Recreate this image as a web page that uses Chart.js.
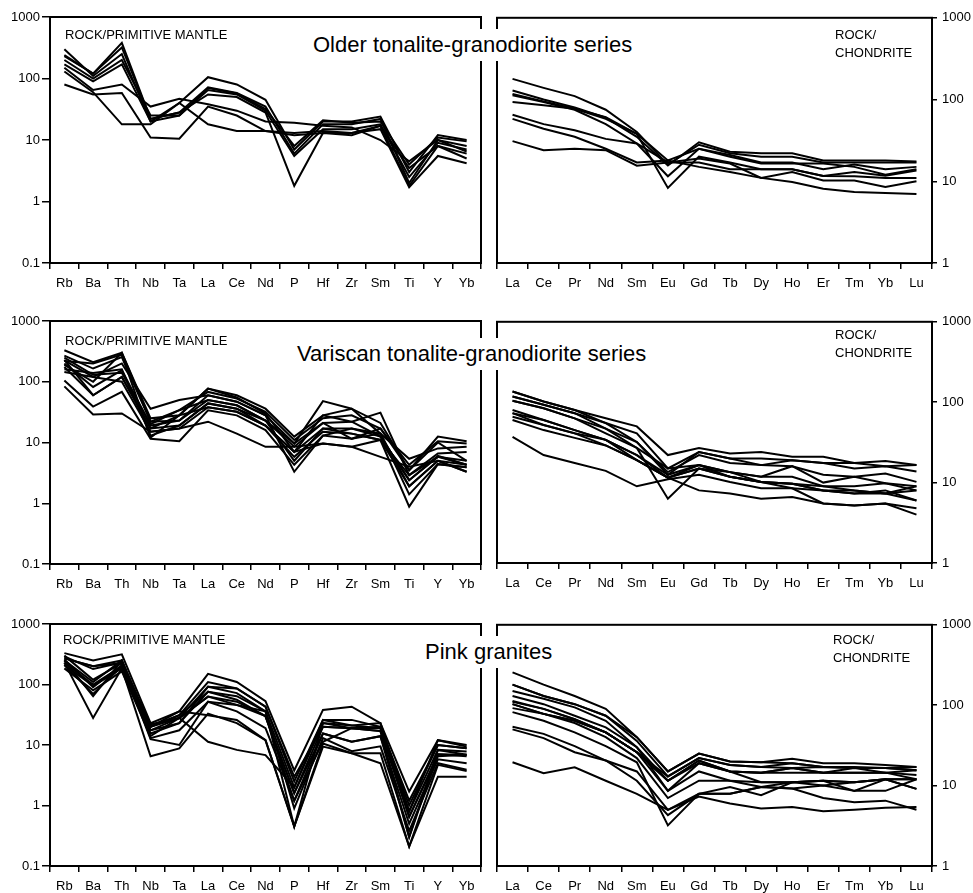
<!DOCTYPE html>
<html>
<head>
<meta charset="utf-8">
<script src="https://cdn.jsdelivr.net/npm/chart.js@4.4.1/dist/chart.umd.min.js"></script>
<style>
  body { margin: 0; background: #fff; }
  #page { position: relative; width: 973px; height: 893px; overflow: hidden; font-family: "Liberation Sans", Arial, sans-serif; color: #000; }
  canvas { position: absolute; }
  .title { position: absolute; background: #fff; font-size: 22px; line-height: 26px; padding: 3px 3px; white-space: nowrap; z-index: 2; }
  .note { position: absolute; font-size: 13px; line-height: 18px; white-space: nowrap; z-index: 1; }
</style>
</head>
<body>
<div id="page">
  <canvas id="c1"></canvas><canvas id="c2"></canvas>
  <canvas id="c3"></canvas><canvas id="c4"></canvas>
  <canvas id="c5"></canvas><canvas id="c6"></canvas>

  <div class="title" style="left:310px;top:29px">Older tonalite-granodiorite series</div>
  <div class="title" style="left:294px;top:338px">Variscan tonalite-granodiorite series</div>
  <div class="title" style="left:422px;top:636px">Pink granites</div>

  <div class="note" style="left:65px;top:26px">ROCK/PRIMITIVE MANTLE</div>
  <div class="note" style="left:65px;top:332px">ROCK/PRIMITIVE MANTLE</div>
  <div class="note" style="left:63px;top:631px">ROCK/PRIMITIVE MANTLE</div>
  <div class="note" style="left:835px;top:26px">ROCK/<br>CHONDRITE</div>
  <div class="note" style="left:835px;top:326px">ROCK/<br>CHONDRITE</div>
  <div class="note" style="left:833px;top:631px">ROCK/<br>CHONDRITE</div>
</div>

<script>
// element order on the two kinds of diagram
const mantleElements = ["Rb","Ba","Th","Nb","Ta","La","Ce","Nd","P","Hf","Zr","Sm","Ti","Y","Yb"];
const reeElements = ["La","Ce","Pr","Nd","Sm","Eu","Gd","Tb","Dy","Ho","Er","Tm","Yb","Lu"];

const mantleTicks = [0.1, 1, 10, 100, 1000];
const chondriteTicks = [1, 10, 100, 1000];

// Older tonalite-granodiorite series
const olderMantle = [
  [240,120,380,22,28,72,58,35,6,18,18,22,2.0,10,8],
  [300,110,250,20,40,105,80,45,7,20,20,24,3.0,12,10],
  [200,100,200,25,25,65,55,30,5.5,15,15,18,2.5,9,7],
  [170,90,170,20,25,70,57,32,8,21,19,20,4.0,11,9.5],
  [150,65,80,35,47,38,30,20,19,17,16,10,4.5,10,6.5],
  [130,60,18,18,40,18,14,14,13,14,13,15,1.7,5.5,4.2],
  [80,55,58,11,10.5,35,25,14,12,13,12,17,3.5,8,5],
  [230,120,320,22,28,55,50,28,1.8,13,13,17,1.8,8,6]
];
const olderChondrite = [
  [179,139,110,75,40,16,28,22,20,20,17,17,17,17],
  [129,100,80,60,35,15.6,30,23,22,22,18,18,18,17.5],
  [117,95,77,58,38,18,25,21,17,17,14,16,14,15],
  [113,93,75,50,29,11.5,25,20,16.5,16.5,16.5,15,12,14],
  [93,85,77,61,38,8.3,20,17,14,14,11.6,13,11.7,13.5],
  [65,50,42,33,29,17,19,16.5,11,13,10.2,10.2,8.5,10],
  [58,44,35,25,17,18,15,13,11,9.8,8.1,7.4,7.2,7],
  [31,24,25,24,15.5,17,17,14,14,14,11.6,11.5,11,11]
];

// Variscan tonalite-granodiorite series
const variscanMantle = [
  [330,210,300,25,28,77,60,36,12.5,28,36,21,3.5,12.5,10.5],
  [270,165,255,22,34,68,53,32,11,25,28,17,4.3,10.5,9.6],
  [225,120,200,36,50,60,47,28,9.6,48,36,14,5.4,8,8.5],
  [200,82,155,19,23,50,41,23,8.5,21,22,31,2.9,6.6,7],
  [175,60,120,17,19,44,36,19,7,17,17,12.5,2.4,5.8,5],
  [145,120,100,15,17,38,32,19,5.8,15,14,11,1.9,5,4.3],
  [105,39,68,11.5,10.5,34,28,16,4.3,13,11.5,14,1.4,4.4,3.9],
  [84,29,30,15,17,22,14,8.5,8.5,9.6,8.5,5.8,4,5,3.3],
  [220,200,280,12,28,77,55,30,7,28,22,12.5,2.4,6,4.3],
  [250,130,140,20,34,50,41,23,5,17,14,11,0.88,4.4,3.9],
  [190,100,300,22,23,60,47,28,3.3,13,17,14,1.9,5,3.3],
  [160,140,160,13,19,44,36,23,9.6,21,11.5,17,3.5,10,5],
  [230,60,120,17,28,38,32,19,7,9.6,8.5,11,2.9,5.8,4.3]
];
const variscanChondrite = [
  [136,102,80,63,50,22,27,23,24,21,21,17.5,18.5,16.5],
  [118,93,73,55,41,15,24,20,20,19,17.5,15,16,13.7],
  [104,84,63,47,32,13.5,22,17.5,16.5,19,17.5,17.5,16,16.5],
  [136,102,80,55,32,12.5,24,20,16.5,16,12.5,11.8,13,10.2],
  [118,93,73,47,27,6.3,15,13.5,11.8,16,10,11.8,9.8,9],
  [80,60,45,34,22,12.5,16.5,13.5,11.8,11.8,9,9,9.8,8],
  [73,60,45,34,19,11.5,16.5,11.8,10.2,9.7,8,7.3,8,6],
  [66,52,41,29,19,11.5,15,11.8,10.2,9.7,9,8,7.3,8],
  [60,45,36,29,19,11.5,8,7.3,6.3,6.6,5.5,5.2,5.5,4.8],
  [73,52,41,34,22,11.5,15,11.8,10.2,8.5,5.5,5.2,5.5,4],
  [37,22,17.5,14,9,11,12.5,10.2,8.5,8.5,8,7.3,7.3,6],
  [104,84,63,41,27,15,16.5,13.5,10.2,9.7,8,8,7.3,9]
];

// Pink granites
const pinkMantle = [
  [330,250,315,23,36,150,110,53,3.8,38,43,23,1.7,12,10],
  [270,200,250,20,31,110,86,43,2.5,26,26,20,1.2,10,8.8],
  [300,120,225,17.5,28,92,72,36,2,23,21,19,0.8,8.3,7.8],
  [210,95,185,15.5,23,76,56,30,1.6,20,19,17,0.65,7,6.9],
  [185,80,165,14,28,63,46,30,1.2,15.5,11.3,14,0.5,5.8,5],
  [250,64,250,13,17.5,52,46,36,0.9,13,7.9,9.5,0.38,5,3.9],
  [230,28,185,6.5,8.8,33,23,12,0.45,10.6,7.3,7.3,0.21,3,3],
  [270,200,225,20,36,31,26,12,0.45,9.4,7.3,5,0.21,4.7,3.7],
  [250,110,250,20,28,11.3,8.3,6.8,2,26,21,23,0.8,12,9.4],
  [290,180,230,17.5,23,92,86,43,3,20,19,20,1.0,10,8.8],
  [210,70,200,20,31,76,64,36,0.45,23,19,17,0.3,8.3,6.9],
  [230,100,200,22,28,63,52,30,1.6,15.5,11.3,14,0.3,7,6.5],
  [260,90,210,12.5,10,52,36,19,1.2,11.3,19,19,0.65,6.5,6.9]
];
const pinkChondrite = [
  [256,180,130,90,40,15,25,20,19.5,21.5,19,19,18,17],
  [180,130,103,74,36,13,22,18,17,19,17,16.5,16.5,15.5],
  [150,120,94,64,30,11.5,20.5,15,14.5,16.5,14.5,14.5,14.5,13.5],
  [130,103,74,53,30,8.6,19,15,14.5,14.5,14.5,16.5,14.5,15.5],
  [113,90,67,46,26,13,22,18,17,16.5,17,16.5,16.5,15.5],
  [103,78,64,46,26,11.5,19,15,11,11,11.5,11,12,12],
  [92,78,64,46,26,8.6,15,11.5,9.6,9.2,10,8.6,8.6,12],
  [82,64,46,31,19.5,3.2,7.9,9.6,7.6,11,11.5,8.6,12,9.1],
  [54,44,31,20.5,15,5,7.9,7.9,9.6,11,10,11,12,9.1],
  [50,39,26,20.5,11.5,4.3,7.9,7.9,9.6,9.2,7,6.2,6.5,5],
  [19.5,14.3,16.9,11.5,7.9,5,7.3,6,5.2,5.4,4.8,5,5.3,5.4],
  [180,130,103,74,40,15,25,20,19.5,19,17,17,16.5,17],
  [110,90,67,46,26,11.5,20.5,15,14.5,16.5,14.5,14.5,14.5,12],
  [103,78,60,40,22,7,11.5,11.5,11,11,11.5,11,12,12]
];

const FONT = '"Liberation Sans", Arial, sans-serif';

// black frame round the plot area
const framePlugin = {
  id: "frame",
  beforeDatasetsDraw(chart) {
    const { ctx, chartArea: a } = chart;
    ctx.save();
    ctx.strokeStyle = "#000";
    ctx.lineWidth = 2;
    ctx.strokeRect(a.left, a.top, a.right - a.left, a.bottom - a.top);
    ctx.restore();
  }
};

function makePanel(id, side, areaTop, areaH, labels, series, ticks) {
  const cv = document.getElementById(id);
  const padTop = 12, xAxisH = 32;
  let left, width, padding, yWidth;
  if (side === "left") {
    left = 0; width = 490; yWidth = 50;
    padding = { top: padTop, right: 9, left: 0, bottom: 0 };
  } else {
    left = 489; width = 484; yWidth = 41;
    padding = { top: padTop, right: 0, left: 8, bottom: 0 };
  }
  cv.width = width;
  cv.height = padTop + areaH + xAxisH;
  cv.style.left = left + "px";
  cv.style.top = (areaTop - padTop) + "px";

  new Chart(cv, {
    type: "line",
    data: {
      labels: labels,
      datasets: series.map(s => ({
        data: s,
        borderColor: "#000",
        borderWidth: 2,
        pointRadius: 0,
        tension: 0,
        fill: false
      }))
    },
    options: {
      responsive: false,
      animation: false,
      layout: { padding: padding },
      plugins: { legend: { display: false }, tooltip: { enabled: false } },
      scales: {
        x: {
          type: "category",
          offset: true,
          grid: { offset: true, drawOnChartArea: false, drawTicks: true, tickLength: 6, color: "#000", lineWidth: 1.5 },
          border: { display: false },
          ticks: { color: "#000", font: { size: 13, family: FONT }, padding: 7, maxRotation: 0, autoSkip: false },
          afterFit(s) { s.height = xAxisH; }
        },
        y: {
          type: "logarithmic",
          position: side,
          min: ticks[0],
          max: ticks[ticks.length - 1],
          grid: { drawOnChartArea: false, drawTicks: true, tickLength: side === "left" ? 8 : 5, color: "#000", lineWidth: 1.5 },
          border: { display: false },
          ticks: {
            color: "#000",
            font: { size: 13, family: FONT },
            padding: side === "left" ? 2 : 5,
            callback: v => String(v)
          },
          afterBuildTicks(s) { s.ticks = ticks.map(v => ({ value: v })); },
          afterFit(s) { s.width = yWidth; }
        }
      }
    },
    plugins: [framePlugin]
  });
}

makePanel("c1", "left", 17, 246, mantleElements, olderMantle, mantleTicks);
makePanel("c2", "right", 17, 246, reeElements, olderChondrite, chondriteTicks);
makePanel("c3", "left", 321, 243, mantleElements, variscanMantle, mantleTicks);
makePanel("c4", "right", 321, 242, reeElements, variscanChondrite, chondriteTicks);
makePanel("c5", "left", 624, 242, mantleElements, pinkMantle, mantleTicks);
makePanel("c6", "right", 624, 242, reeElements, pinkChondrite, chondriteTicks);
</script>
</body>
</html>
